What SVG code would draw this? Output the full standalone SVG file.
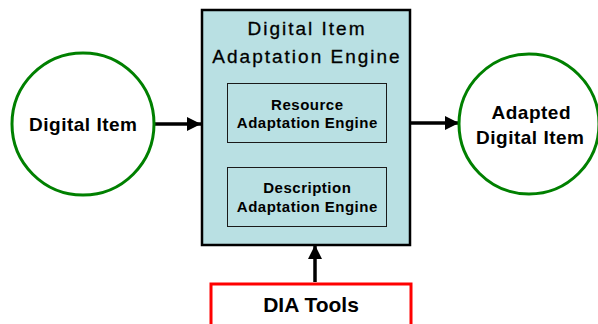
<svg xmlns="http://www.w3.org/2000/svg" width="598" height="324" viewBox="0 0 598 324">
<defs>
<style>
.circle{fill:#ffffff;stroke:#008000;stroke-width:3}
.ctext{font-family:"Liberation Sans",Arial,sans-serif;font-weight:bold;font-size:19px;letter-spacing:0.5px;text-anchor:middle;fill:#000}
.title{font-family:"Liberation Sans",Arial,sans-serif;font-size:19px;letter-spacing:2px;text-anchor:middle;fill:#000;stroke:#000;stroke-width:0.3}
.itext{font-family:"Liberation Sans",Arial,sans-serif;font-weight:bold;font-size:15px;letter-spacing:0.5px;text-anchor:middle;fill:#000}
.conn{stroke:#000;stroke-width:3.5;fill:none}
</style>
<marker id="ah" viewBox="0 0 10 10" refX="10" refY="5" markerUnits="userSpaceOnUse" markerWidth="15" markerHeight="14" orient="auto">
<path d="M0,0 L10,5 L0,10 Z" fill="#000"/>
</marker>
</defs>
<rect width="598" height="324" fill="#ffffff"/>
<g id="connectors">
<line class="conn" x1="155" y1="124" x2="201" y2="124" marker-end="url(#ah)"/>
<line class="conn" x1="411" y1="123" x2="459" y2="123" marker-end="url(#ah)"/>
<line class="conn" x1="315" y1="282" x2="315" y2="245" marker-end="url(#ah)"/>
</g>
<g id="digital-item">
<circle class="circle" cx="83" cy="124" r="71"/>
<text class="ctext" x="83.3" y="131">Digital Item</text>
</g>
<g id="dia-engine">
<rect x="202" y="10" width="208" height="235" fill="#b9e0e3" stroke="#000" stroke-width="2.5"/>
<text class="title" x="307" y="35">Digital Item</text>
<text class="title" x="307" y="63">Adaptation Engine</text>
</g>
<g id="resource-engine">
<rect x="227.5" y="83.5" width="159" height="59" fill="none" stroke="#1a1a1a" stroke-width="1"/>
<text class="itext" x="307.3" y="110">Resource</text>
<text class="itext" x="307.3" y="128">Adaptation Engine</text>
</g>
<g id="description-engine">
<rect x="227.5" y="167.5" width="159" height="59" fill="none" stroke="#1a1a1a" stroke-width="1"/>
<text class="itext" x="307.3" y="193">Description</text>
<text class="itext" x="307.3" y="212">Adaptation Engine</text>
</g>
<g id="adapted-digital-item">
<circle class="circle" cx="529" cy="124" r="70"/>
<text class="ctext" x="531.3" y="119">Adapted</text>
<text class="ctext" x="530.3" y="144">Digital Item</text>
</g>
<g id="dia-tools">
<rect x="211" y="284" width="200" height="60" fill="#ffffff" stroke="#ff0000" stroke-width="3"/>
<text class="ctext" x="311" y="312" style="font-size:21px;letter-spacing:0">DIA Tools</text>
</g>
</svg>
